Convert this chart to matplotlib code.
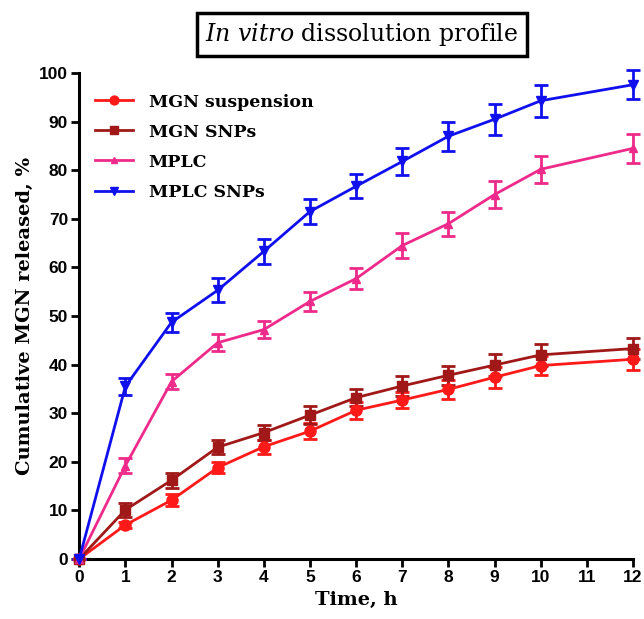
import matplotlib.pyplot as plt
import numpy as np

plt.rcParams["mathtext.fontset"] = "dejavuserif"

time_h = [0, 1, 2, 3, 4, 5, 6, 7, 8, 9, 10, 12]

susp = [0, 7.0, 12.1, 18.8, 23.1, 26.3, 30.6, 32.7, 34.9, 37.4, 39.8, 41.1]
susp_err = [0, 0.6, 1.2, 1.2, 1.4, 1.6, 1.8, 1.6, 2.0, 2.2, 2.0, 2.2]

mgn_snp = [0, 10.1, 16.2, 23.0, 26.0, 29.6, 33.2, 35.6, 37.8, 39.9, 42.0, 43.3]
mgn_snp_err = [0, 1.5, 1.5, 1.5, 1.5, 1.8, 1.8, 2.0, 2.0, 2.2, 2.2, 2.2]

mplc = [0, 19.2, 36.5, 44.5, 47.2, 53.0, 57.7, 64.5, 69.0, 75.0, 80.2, 84.5]
mplc_err = [0, 1.5, 1.5, 1.8, 1.7, 2.0, 2.2, 2.5, 2.5, 2.7, 2.8, 3.0]

mplc_snp = [0, 35.5, 48.7, 55.3, 63.3, 71.5, 76.7, 81.8, 87.0, 90.5, 94.3, 97.6]
mplc_snp_err = [0, 1.8, 2.0, 2.5, 2.5, 2.5, 2.5, 2.8, 3.0, 3.2, 3.3, 3.0]

series = [
    ("MGN suspension", susp, susp_err, "#ff1a1a", "o", 8),
    ("MGN SNPs", mgn_snp, mgn_snp_err, "#a01818", "s", 7),
    ("MPLC", mplc, mplc_err, "#ee2a8a", "^", 6),
    ("MPLC SNPs", mplc_snp, mplc_snp_err, "#1010ee", "v", 7),
]

fig = plt.figure(figsize=(6.44, 6.19), dpi=100)
ax = fig.add_axes([0.123, 0.097, 0.860, 0.785])

handles, names = [], []
for name, y, e, c, m, ms in series:
    cont = ax.errorbar(time_h, y, yerr=e, color=c, marker=m, markersize=ms,
                       linewidth=2, elinewidth=2, capsize=5, capthick=2,
                       clip_on=False, zorder=3)
    handles.append(cont[0])
    names.append(name)

ax.set_xlim(0, 12)
ax.set_ylim(0, 100)
ax.set_xticks(range(0, 13))
ax.set_yticks(range(0, 101, 10))
for s in ["top", "right"]:
    ax.spines[s].set_visible(False)
for s in ["left", "bottom"]:
    ax.spines[s].set_linewidth(2.2)
ax.tick_params(width=2, length=6, labelsize=12.5, pad=2)
for lab in ax.get_xticklabels() + ax.get_yticklabels():
    lab.set_fontfamily("Liberation Sans")
    lab.set_fontweight("bold")

ax.set_xlabel("Time, h", fontfamily="DejaVu Serif", fontweight="bold", fontsize=14)
ax.set_ylabel("Cumulative MGN released, %", fontfamily="DejaVu Serif",
              fontweight="bold", fontsize=14)

ax.legend(handles, names, loc="upper left", bbox_to_anchor=(0.0, 0.99), frameon=False,
          prop={"family": "DejaVu Serif", "weight": "bold", "size": 12.5},
          handlelength=2.2, labelspacing=0.75, handletextpad=0.9, markerscale=0.8)

fig.text(0.562, 0.944, r"$\mathit{In\ vitro}$ dissolution profile",
         ha="center", va="center", fontsize=17, fontfamily="DejaVu Serif",
         bbox=dict(boxstyle="square,pad=0.35", facecolor="white",
                   edgecolor="black", linewidth=2.5))

fig.savefig("out.png", dpi=100)
